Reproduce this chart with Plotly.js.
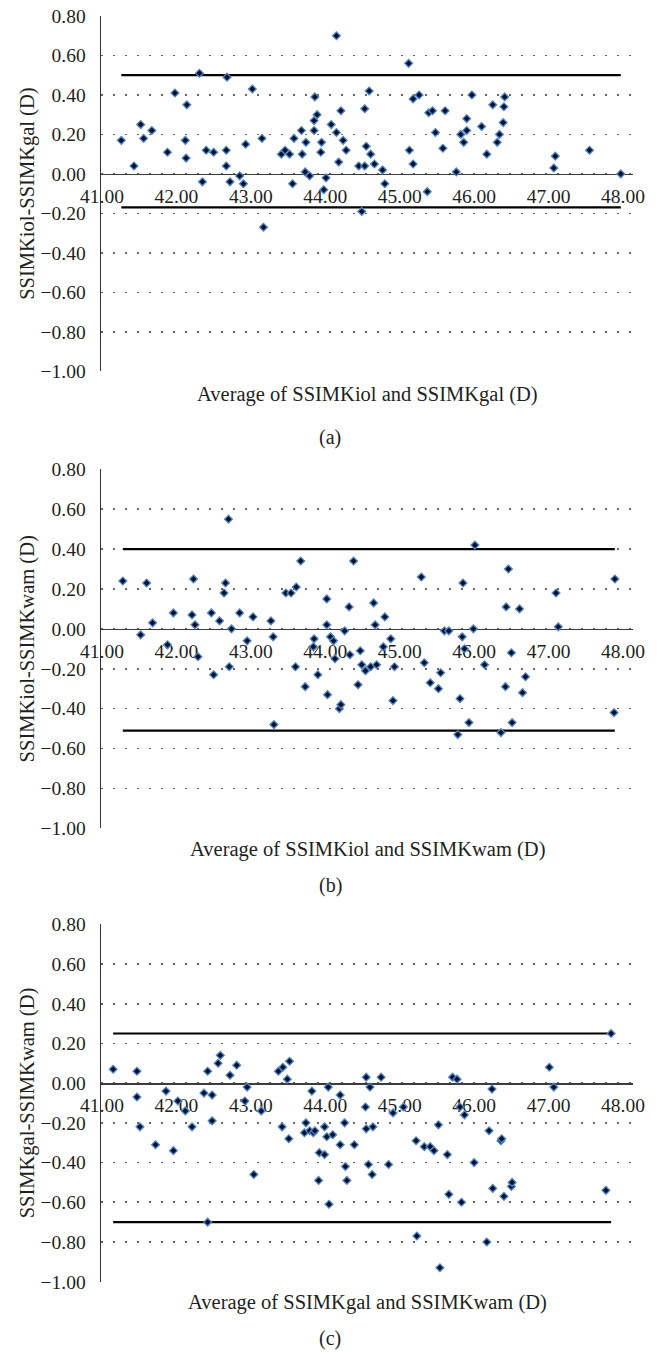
<!DOCTYPE html>
<html>
<head>
<meta charset="utf-8">
<script src="https://cdn.plot.ly/plotly-3.0.1.min.js"></script>
<style>html,body{margin:0;padding:0;background:#fff;}#chart{width:660px;height:1352px;}</style>
</head>
<body>
<div id="chart"></div>
<script>
// ---------- DATA ----------
const xTicks = [41, 42, 43, 44, 45, 46, 47, 48];
const yTicks = [-1.0, -0.8, -0.6, -0.4, -0.2, 0.0, 0.2, 0.4, 0.6, 0.8];

// (a) SSIMKiol vs SSIMKgal
const avgA = [41.26,41.43,41.52,41.56,41.67,41.88,41.98,42.12,42.13,42.14,42.31,42.35,42.40,42.50,42.67,42.67,42.68,42.72,42.85,42.90,42.93,43.02,43.15,43.17,43.41,43.46,43.52,43.56,43.58,43.68,43.69,43.73,43.74,43.79,43.85,43.85,43.86,43.89,43.94,43.95,43.98,44.01,44.08,44.15,44.15,44.18,44.21,44.24,44.28,44.45,44.49,44.53,44.53,44.55,44.59,44.61,44.66,44.77,44.80,45.12,45.13,45.18,45.18,45.26,45.37,45.39,45.44,45.48,45.58,45.61,45.76,45.82,45.86,45.90,45.90,45.97,46.10,46.17,46.25,46.31,46.34,46.39,46.40,46.41,47.07,47.09,47.55,47.97];
const diffA = [0.17,0.04,0.25,0.18,0.22,0.11,0.41,0.17,0.08,0.35,0.51,-0.04,0.12,0.11,0.12,0.04,0.49,-0.04,-0.01,-0.05,0.15,0.43,0.18,-0.27,0.10,0.12,0.10,-0.05,0.18,0.22,0.10,0.01,0.16,-0.01,0.27,0.22,0.39,0.30,0.11,0.16,-0.08,-0.02,0.25,0.21,0.70,0.06,0.32,0.17,0.12,0.04,-0.19,0.04,0.33,0.14,0.42,0.10,0.05,0.02,-0.05,0.56,0.12,0.05,0.38,0.40,-0.09,0.31,0.32,0.21,0.13,0.32,0.01,0.20,0.16,0.22,0.28,0.40,0.24,0.10,0.35,0.16,0.20,0.26,0.34,0.39,0.03,0.09,0.12,0.00];
const loaA = [0.50, -0.17];

// (b) SSIMKiol vs SSIMKwam
const avgB = [41.28,41.52,41.60,41.68,41.88,41.96,42.21,42.23,42.25,42.29,42.47,42.50,42.58,42.64,42.66,42.70,42.71,42.74,42.85,42.95,43.03,43.27,43.30,43.31,43.47,43.54,43.60,43.61,43.67,43.73,43.84,43.85,43.90,44.02,44.02,44.03,44.07,44.11,44.13,44.19,44.21,44.26,44.32,44.33,44.38,44.44,44.47,44.49,44.54,44.61,44.65,44.67,44.69,44.78,44.80,44.88,44.91,44.93,45.29,45.33,45.41,45.52,45.55,45.60,45.66,45.78,45.81,45.84,45.85,45.87,45.93,45.99,46.01,46.14,46.36,46.42,46.43,46.46,46.50,46.51,46.61,46.65,46.69,47.10,47.13,47.88,47.89];
const diffB = [0.24,-0.03,0.23,0.03,-0.08,0.08,0.07,0.25,0.02,-0.14,0.08,-0.23,0.04,0.18,0.23,0.55,-0.19,0.00,0.08,-0.06,0.06,0.04,-0.04,-0.48,0.18,0.18,-0.19,0.21,0.34,-0.29,-0.09,-0.05,-0.23,0.15,0.02,-0.33,-0.04,-0.06,-0.15,-0.40,-0.38,-0.01,0.11,-0.13,0.34,-0.28,-0.11,-0.18,-0.21,-0.19,0.13,0.02,-0.18,-0.09,0.06,-0.05,-0.36,-0.19,0.26,-0.17,-0.27,-0.30,-0.22,-0.01,-0.01,-0.53,-0.35,-0.04,0.23,-0.10,-0.47,0.00,0.42,-0.18,-0.52,-0.29,0.11,0.30,-0.12,-0.47,0.10,-0.32,-0.24,0.18,0.01,-0.42,0.25];
const loaB = [0.40, -0.51];

// (c) SSIMKgal vs SSIMKwam
const avgC = [41.15,41.47,41.47,41.51,41.72,41.86,41.96,42.02,42.12,42.21,42.37,42.42,42.42,42.48,42.48,42.56,42.59,42.72,42.81,42.92,42.95,43.04,43.14,43.37,43.42,43.43,43.49,43.51,43.52,43.72,43.74,43.79,43.82,43.84,43.86,43.91,43.92,43.99,43.99,44.02,44.04,44.05,44.10,44.20,44.20,44.26,44.27,44.29,44.39,44.54,44.55,44.55,44.58,44.60,44.63,44.64,44.75,44.85,44.91,45.05,45.22,45.23,45.33,45.41,45.46,45.52,45.54,45.64,45.66,45.71,45.77,45.81,45.83,45.87,46.00,46.17,46.20,46.24,46.25,46.36,46.37,46.40,46.50,46.51,47.01,47.07,47.77,47.84];
const diffC = [0.07,0.06,-0.07,-0.22,-0.31,-0.04,-0.34,-0.09,-0.14,-0.22,-0.05,0.06,-0.70,-0.06,-0.19,0.10,0.14,0.04,0.09,-0.09,-0.02,-0.46,-0.14,0.06,-0.22,0.08,0.02,-0.28,0.11,-0.25,-0.20,-0.24,-0.04,-0.25,-0.24,-0.49,-0.35,-0.36,-0.22,-0.27,-0.02,-0.61,-0.26,-0.06,-0.31,-0.20,-0.42,-0.49,-0.31,-0.12,0.03,-0.23,-0.41,-0.02,-0.46,-0.22,0.03,-0.41,-0.15,-0.12,-0.29,-0.77,-0.32,-0.32,-0.34,-0.21,-0.93,-0.36,-0.56,0.03,0.02,-0.12,-0.60,-0.16,-0.40,-0.80,-0.24,-0.03,-0.53,-0.29,-0.28,-0.57,-0.52,-0.50,0.08,-0.02,-0.54,0.25];
const loaC = [0.25, -0.70];

const yTitles = ["SSIMKiol-SSIMKgal (D)", "SSIMKiol-SSIMKwam (D)", "SSIMKgal-SSIMKwam (D)"];
const xTitles = ["Average of SSIMKiol and SSIMKgal (D)", "Average of SSIMKiol and SSIMKwam (D)", "Average of SSIMKgal and SSIMKwam (D)"];
const panelLabels = ["(a)", "(b)", "(c)"];

// ---------- LAYOUT / STYLE ----------
const W = 660, H = 1352;
const FONT = "Liberation Serif, Times New Roman, serif";
const TXT = "#231f20";
const plotLeftPx = 101, plotRightPx = 633;
const panels = [
  {avg: avgA, diff: diffA, loa: loaA, topPx: 16.0,  botPx: 371.3, xTitlePx: 394, labelPx: 437},
  {avg: avgB, diff: diffB, loa: loaB, topPx: 469.3, botPx: 828.3, xTitlePx: 849, labelPx: 885},
  {avg: avgC, diff: diffC, loa: loaC, topPx: 924.3, botPx: 1281.7, xTitlePx: 1302, labelPx: 1338}
];
const yRange = [-1, 0.8];
const xRange = [40.987, 48.134];

const traces = [];
const layout = {
  width: W, height: H,
  margin: {l: 0, r: 0, t: 0, b: 0},
  paper_bgcolor: "#fff", plot_bgcolor: "#fff",
  showlegend: false,
  font: {family: FONT, color: TXT, size: 20},
  annotations: []
};

panels.forEach((p, i) => {
  const n = i === 0 ? "" : String(i + 1);
  const xa = "x" + n, ya = "y" + n;
  const d0 = 1 - p.botPx / H, d1 = 1 - p.topPx / H;
  const zeroPos = d0 + (0 - yRange[0]) / (yRange[1] - yRange[0]) * (d1 - d0);
  const xmin = Math.min(...p.avg), xmax = Math.max(...p.avg);

  // limits of agreement lines
  p.loa.forEach(v => {
    traces.push({
      x: [xmin, xmax], y: [v, v], xaxis: xa, yaxis: ya,
      type: "scatter", mode: "lines",
      line: {color: "#000", width: 2.2}, hoverinfo: "skip"
    });
  });
  // points
  traces.push({
    x: p.avg, y: p.diff, xaxis: xa, yaxis: ya,
    type: "scatter", mode: "markers",
    marker: {symbol: "diamond", size: 6, color: "#08102a", line: {color: "#4f86c8", width: 1.3}},
    cliponaxis: false
  });

  layout["xaxis" + n] = {
    domain: [plotLeftPx / W, plotRightPx / W],
    range: xRange,
    anchor: "free", position: zeroPos,
    tickvals: xTicks, tickformat: ".2f",
    showgrid: false, zeroline: false,
    showline: true, linecolor: "#3c3c3c", linewidth: 1.4,
    ticks: "", ticklabelstandoff: 4,
    tickfont: {family: FONT, size: 19.5, color: TXT},
    layer: "below traces", fixedrange: true
  };
  layout["yaxis" + n] = {
    domain: [d0, d1],
    range: yRange,
    anchor: xa,
    tickvals: yTicks, tickformat: ".2f",
    showgrid: true, griddash: "2px,10px", gridcolor: "#666", gridwidth: 1.6,
    zeroline: false,
    showline: true, linecolor: "#333", linewidth: 1.4,
    ticks: "", ticklabelstandoff: 10,
    tickfont: {family: FONT, size: 19.5, color: TXT},
    title: {text: yTitles[i], font: {family: FONT, size: 20.5, color: TXT}, standoff: 0},
    layer: "below traces", fixedrange: true
  };

  layout.annotations.push({
    xref: "paper", yref: "paper",
    x: (plotLeftPx + plotRightPx) / 2 / W, y: 1 - p.xTitlePx / H,
    xanchor: "center", yanchor: "middle", showarrow: false,
    text: xTitles[i], font: {family: FONT, size: 20.5, color: TXT}
  });
  layout.annotations.push({
    xref: "paper", yref: "paper",
    x: 0.5, y: 1 - p.labelPx / H,
    xanchor: "center", yanchor: "middle", showarrow: false,
    text: panelLabels[i], font: {family: FONT, size: 20, color: TXT}
  });
});

Plotly.newPlot("chart", traces, layout, {staticPlot: true, displayModeBar: false});
</script>
</body>
</html>
